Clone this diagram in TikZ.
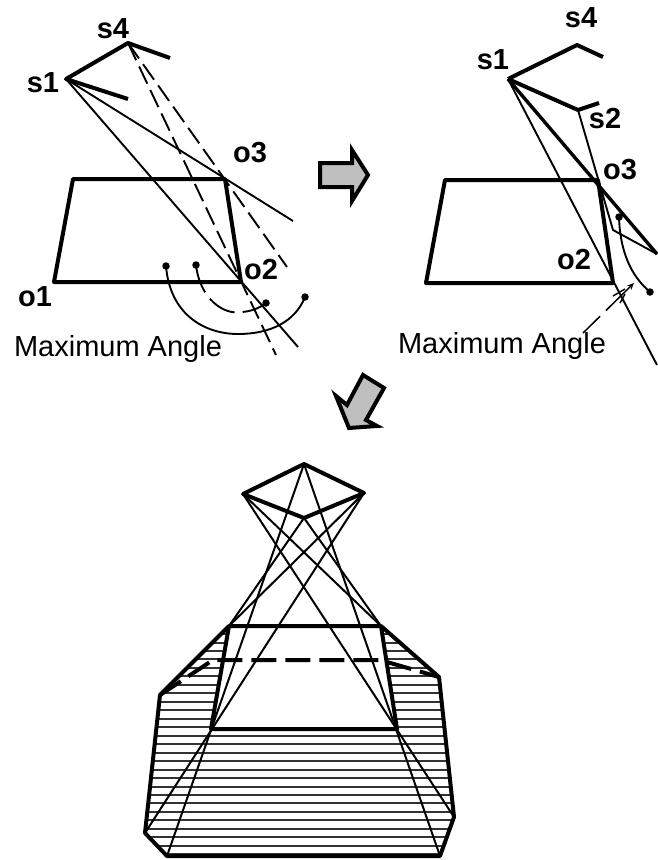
\documentclass[tikz,border=0pt]{standalone}
\usepackage{fontspec}
\setmainfont{Liberation Sans}
\usetikzlibrary{arrows.meta}
\tikzset{
 x=1pt,y=-1pt,
 heavy/.style={line width=4pt,line join=round},
 fine/.style={line width=1.9pt},
 dashline/.style={line width=1.9pt,dash pattern=on 19pt off 7pt},
 blockarrow/.style={draw=black,fill=black!25,line width=4pt,line join=miter,miter limit=8},
 dotm/.style={circle,fill=black,inner sep=0pt,minimum size=7.5pt},
 lab/.style={font=\fontsize{29}{29}\selectfont\bfseries,inner sep=0pt},
 captext/.style={font=\fontsize{29}{29}\selectfont,inner sep=0pt},
 hatchline/.style={line width=2pt,black!80},
 ray/.style={line width=2pt}
}
\begin{document}
\begin{tikzpicture}
\useasboundingbox (0,0) rectangle (657,860);
% ---------- left panel
\coordinate (Ls1) at (66,79); \coordinate (Ls4) at (128,43);
\coordinate (Ls1b) at (128,99); \coordinate (Ls4b) at (170,58);
\coordinate (LA) at (73,179); \coordinate (Lo3) at (225,179);
\coordinate (Lo2) at (241,282); \coordinate (Lo1) at (54,282);
\coordinate (La) at (293,221); \coordinate (Lb) at (298,347);
\coordinate (Lc) at (287,267); \coordinate (Ld) at (276,355);
\draw[heavy] (Ls1b)--(Ls1)--(Ls4)--(Ls4b);
\draw[heavy] (LA)--(Lo3)--(Lo2)--(Lo1)--cycle;
\draw[fine] (Ls1)--(La);
\draw[fine] (Ls1)--(Lb);
\draw[dashline] (Ls4)--(Lc);
\draw[dashline] (Ls4)--(Ld);
\node[dotm] (Ld1) at (166,266) {};
\node[dotm] (Ld2) at (305,297) {};
\node[dotm] (Ld3) at (196,265) {};
\node[dotm] (Ld4) at (266,303) {};
\draw[fine] (Ld1.center) .. controls (170,315) and (205,334) .. (238,334) .. controls (270,334) and (295,322) .. (Ld2.center);
\draw[line width=1.9pt,dash pattern=on 29pt off 8pt] (Ld3.center) .. controls (200,300) and (225,315) .. (240,312) .. controls (250,312) and (260,308) .. (Ld4.center);
\node[lab] (tLs4) at (113,29) {s4};
\node[lab] (tLs1) at (43,83) {s1};
\node[lab] (tLo3) at (250,153) {o3};
\node[lab] (tLo2) at (261,270) {o2};
\node[lab] (tLo1) at (35,297) {o1};
\node[captext] (tLm) at (118,349) {Maximum Angle};
% ---------- arrows
\draw[blockarrow] (320,163)--(352,163)--(352,150)--(368,175)--(352,201)--(352,187)--(320,187)--cycle;
\draw[blockarrow] (363,375)--(384,388)--(366,420)--(377,426)--(349,428)--(336,396)--(347,405)--cycle;
% ---------- right panel
\coordinate (Rs1) at (508,79); \coordinate (Rs4) at (577,45); \coordinate (Rs4b) at (603,57);
\coordinate (Rs2) at (578,110); \coordinate (Rs2b) at (599,103);
\coordinate (RA) at (445,180); \coordinate (Ro3) at (598,180);
\coordinate (Ro2) at (613,283); \coordinate (Ro1) at (426,283);
\coordinate (Ra) at (657,254); \coordinate (Rb) at (657,365); \coordinate (Rk) at (613,230);
\draw[heavy] (Rs1)--(Rs4)--(Rs4b);
\draw[heavy] (Rs1)--(Rs2)--(Rs2b);
\draw[heavy] (RA)--(Ro3)--(Ro2)--(Ro1)--cycle;
\draw[line width=3.4pt] (Rs1)--(Ra);
\draw[fine] (Rs1)--(Rb);
\draw[fine] (Rs2)--(Rk)--(Ra);
\node[dotm] (Rd1) at (619,217) {};
\node[dotm] (Rd2) at (650,292) {};
\draw[fine] (Rd1.center) .. controls (620,250) and (630,275) .. (Rd2.center);
\coordinate (Rl1) at (583,333); \coordinate (Rl2) at (634,283);
\draw[line width=1.5pt,dash pattern=on 24pt off 8pt on 40pt off 0pt,-{Stealth[length=7pt,width=6pt]}] (Rl1)--(Rl2);
\coordinate (Rt1) at (613,296); \coordinate (Rt2) at (625,289);
\coordinate (Rt3) at (620,303); \coordinate (Rt4) at (625,294);
\draw[line width=1.4pt] (Rt1)--(Rt2);
\draw[line width=1.4pt] (Rt3)--(Rt4);
\node[lab] (tRs4) at (581,18) {s4};
\node[lab] (tRs1) at (493,60) {s1};
\node[lab] (tRs2) at (605,119) {s2};
\node[lab] (tRo3) at (620,170) {o3};
\node[lab] (tRo2) at (574,260) {o2};
\node[captext] (tRm) at (502,346) {Maximum Angle};
% ---------- bottom solid
\coordinate (Dt) at (304,464); \coordinate (Dl) at (243,494);
\coordinate (Dr) at (364,493); \coordinate (Db) at (304,518);
\coordinate (TA) at (229,626); \coordinate (TB) at (381,626);
\coordinate (TC) at (397,729); \coordinate (TD) at (211,729);
\coordinate (O1) at (160,695); \coordinate (O2) at (145,833); \coordinate (O3) at (167,856);
\coordinate (O4) at (440,856); \coordinate (O5) at (454,817); \coordinate (O6) at (439,677);
\coordinate (DK1) at (213,660); \coordinate (DK2) at (380,660);
\begin{scope}
\clip (TA)--(O1)--(O2)--(O3)--(O4)--(O5)--(O6)--(TB)--cycle;
\foreach \k in {-12,...,14} \draw[hatchline] (130,735.7+8.47*\k)--(470,735.7+8.47*\k);
\end{scope}
\fill[white] (TA)--(TB)--(TC)--(TD)--cycle;
\draw[heavy] (TA)--(O1)--(O2)--(O3)--(O4)--(O5)--(O6)--(TB);
\draw[heavy] (TA)--(TB)--(TC)--(TD)--cycle;
\draw[heavy] (Dt)--(Dl)--(Db)--(Dr)--cycle;
\draw[ray] (Dt)--(O3);
\draw[ray] (Dt)--(O4);
\draw[ray] (Dr)--(O2);
\draw[ray] (Dl)--(O5);
\draw[ray] (Dr)--(TA);
\draw[ray] (Db)--(TA);
\draw[ray] (Dl)--(TB);
\draw[ray] (Db)--(TB);
\draw[line width=4pt,dash pattern=on 25pt off 9pt] (O1)--(DK1)--(DK2)--(O6);
\end{tikzpicture}
\end{document}
